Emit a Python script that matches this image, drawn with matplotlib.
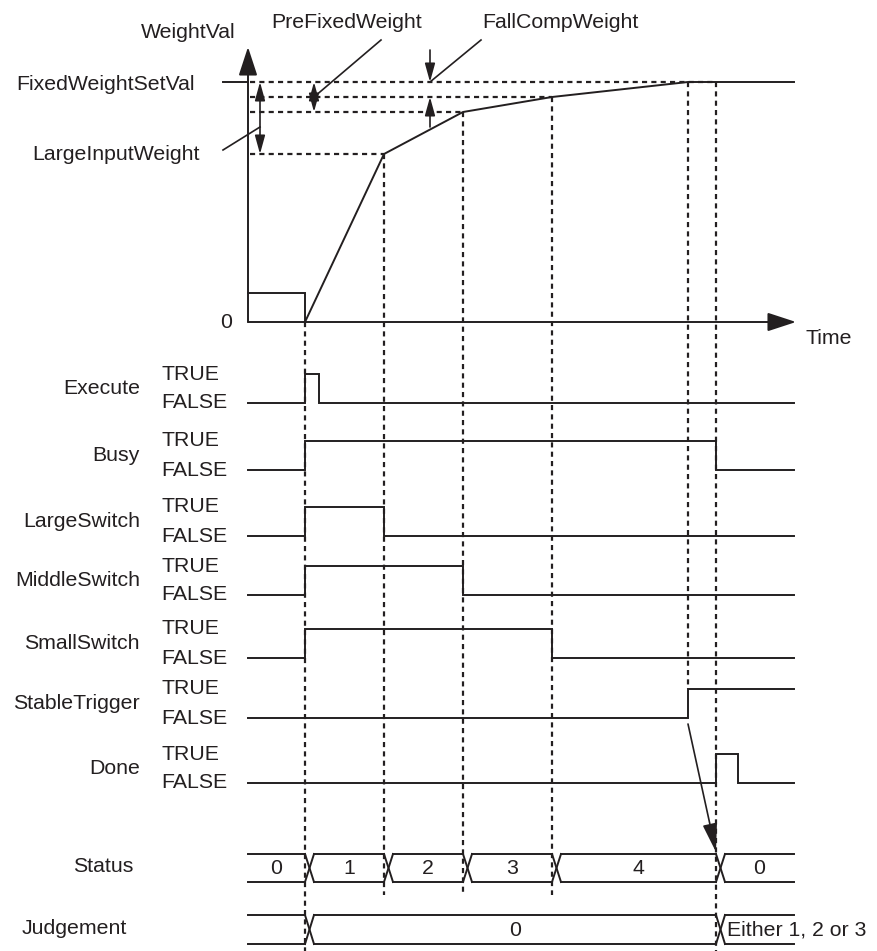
import matplotlib.pyplot as plt

plt.rcParams['font.family'] = ['Liberation Sans', 'DejaVu Sans']

# event times (horizontal position on the time axis)
t_start = 248
t_exec = 305
t_exec_off = 319
t_large = 384
t_middle = 463
t_small = 552
t_stable = 688
t_done = 716
t_done_off = 738
t_end = 794

# weight values (height above the time axis)
w_initial = 29
w_large = 168
w_middle = 210
w_small = 225
w_fixed = 240

# weight curve
curve_t = [t_start, t_exec, t_exec, t_large, t_middle, t_small, t_stable, t_end]
curve_w = [w_initial, w_initial, 0, w_large, w_middle, w_small, w_fixed, w_fixed]

# digital signals: (name, start level, switch times)
signal_names = ['Execute', 'Busy', 'LargeSwitch', 'MiddleSwitch', 'SmallSwitch', 'StableTrigger', 'Done']
signal_start = [0, 0, 0, 0, 0, 0, 0]
signal_edges = [[t_exec, t_exec_off],
                [t_exec, t_done],
                [t_exec, t_large],
                [t_exec, t_middle],
                [t_exec, t_small],
                [t_stable],
                [t_done, t_done_off]]

# buses
status_edges = [t_exec, t_large, t_middle, t_small, t_done]
status_values = ['0', '1', '2', '3', '4', '0']
judge_edges = [t_exec, t_done]
judge_values = ['', '0', 'Either 1, 2 or 3']

# layout
y_zero = 322
row_low = [403, 470, 536, 595, 658, 718, 783]
row_h = 29
status_top, status_bot = 854, 882
judge_top, judge_bot = 915, 944
fs = 15.3
lw = 1.4
ink = '#231f20'
dash_kw = dict(color=ink, lw=1.6, dashes=(2.3, 1.9))

fig = plt.figure(figsize=(8.77, 9.51), dpi=100)
ax = fig.add_axes([0, 0, 1, 1])
ax.set_xlim(0, 877)
ax.set_ylim(951, 0)
ax.axis('off')


def wy(w):
    return y_zero - w


# axes of the weight graph
big_head = dict(arrowstyle='-|>,head_length=1.1,head_width=0.36', mutation_scale=16,
                lw=lw, color=ink, shrinkA=0, shrinkB=0)
ax.annotate('', xy=(t_start, 47), xytext=(t_start, y_zero), arrowprops=big_head)
ax.annotate('', xy=(796, y_zero), xytext=(t_start, y_zero), arrowprops=big_head)
ax.text(226, y_zero, '0', fontsize=fs, ha='center', va='center', color=ink)
ax.text(829, 339, 'Time', fontsize=fs, ha='center', va='center', color=ink)
ax.text(188, 33, 'WeightVal', fontsize=fs, ha='center', va='center', color=ink)

ax.plot(curve_t, [wy(w) for w in curve_w], color=ink, lw=lw, solid_joinstyle='miter')

# horizontal dashed levels
for w, t in [(w_large, t_large), (w_middle, t_middle), (w_small, t_small), (w_fixed, t_done)]:
    ax.plot([t_start + 2, t], [wy(w), wy(w)], **dash_kw)

# vertical dashed guides
ax.plot([t_exec, t_exec], [y_zero, 951], **dash_kw)
ax.plot([t_large, t_large], [wy(w_large), 895], **dash_kw)
ax.plot([t_middle, t_middle], [wy(w_middle), 895], **dash_kw)
ax.plot([t_small, t_small], [wy(w_small), 895], **dash_kw)
ax.plot([t_stable, t_stable], [wy(w_fixed), row_low[5] - row_h], **dash_kw)
ax.plot([t_done, t_done], [wy(w_fixed), 951], **dash_kw)

# dimension annotations
small_arrow = dict(arrowstyle='<|-|>,head_length=0.8,head_width=0.22', mutation_scale=14,
                   lw=1.2, color=ink, shrinkA=0, shrinkB=0)
one_arrow = dict(arrowstyle='-|>,head_length=0.8,head_width=0.22', mutation_scale=14,
                 lw=1.2, color=ink, shrinkA=0, shrinkB=0)
ax.plot([223, t_start], [wy(w_fixed), wy(w_fixed)], color=ink, lw=lw)
ax.text(195, 85, 'FixedWeightSetVal', fontsize=fs, ha='right', va='center', color=ink)

ax.annotate('', xy=(260, wy(w_fixed)), xytext=(260, wy(w_large)), arrowprops=small_arrow)
ax.plot([223, 260], [150, 127], color=ink, lw=1.2)
ax.text(200, 155, 'LargeInputWeight', fontsize=fs, ha='right', va='center', color=ink)

ax.annotate('', xy=(314, wy(w_fixed)), xytext=(314, wy(w_middle)), arrowprops=small_arrow)
ax.plot([314, 381], [wy(w_small), 40], color=ink, lw=1.2)
ax.text(347, 22, 'PreFixedWeight', fontsize=fs, ha='center', va='center', color=ink)

ax.annotate('', xy=(430, wy(w_fixed)), xytext=(430, 50), arrowprops=one_arrow)
ax.annotate('', xy=(430, wy(w_small)), xytext=(430, 127), arrowprops=one_arrow)
ax.plot([430, 481], [wy(w_fixed), 40], color=ink, lw=1.2)
ax.text(560, 22, 'FallCompWeight', fontsize=fs, ha='center', va='center', color=ink)

# digital signals
for name, s0, edges, low in zip(signal_names, signal_start, signal_edges, row_low):
    xs = [t_start]
    ys = [low - row_h * s0]
    level = s0
    for e in edges:
        xs += [e, e]
        ys += [low - row_h * level]
        level = 1 - level
        ys += [low - row_h * level]
    xs.append(t_end)
    ys.append(low - row_h * level)
    ax.plot(xs, ys, color=ink, lw=lw, solid_joinstyle='miter')
    ax.text(140, low - row_h / 2, name, fontsize=fs, ha='right', va='center', color=ink)
    ax.text(161, low - row_h, 'TRUE', fontsize=fs, ha='left', va='center', color=ink)
    ax.text(161, low, 'FALSE', fontsize=fs, ha='left', va='center', color=ink)


def draw_bus(edges, values, top, bot, label, label_x, last_left=False):
    xw = 9
    bounds = [t_start] + edges + [t_end]
    for i in range(len(bounds) - 1):
        a = bounds[i] + (xw if i > 0 else 0)
        b = bounds[i + 1]
        ax.plot([a, b], [top, top], color=ink, lw=lw)
        ax.plot([a, b], [bot, bot], color=ink, lw=lw)
    for e in edges:
        ax.plot([e, e + xw], [top, bot], color=ink, lw=lw)
        ax.plot([e, e + xw], [bot, top], color=ink, lw=lw)
    mid = (top + bot) / 2
    for i, v in enumerate(values):
        a = bounds[i] + (xw if i > 0 else 0)
        b = bounds[i + 1]
        if last_left and i == len(values) - 1:
            ax.text(a + 2, mid + 1, v, fontsize=fs, ha='left', va='center', color=ink)
        else:
            ax.text((a + b) / 2, mid + 1, v, fontsize=fs, ha='center', va='center', color=ink)
    ax.text(label_x, mid - 1, label, fontsize=fs, ha='right', va='center', color=ink)


draw_bus(status_edges, status_values, status_top, status_bot, 'Status', 133)
draw_bus(judge_edges, judge_values, judge_top, judge_bot, 'Judgement', 127, last_left=True)

# StableTrigger -> Status change arrow
ax.annotate('', xy=(t_done, status_top - 2), xytext=(t_stable, row_low[5] + 6),
            arrowprops=dict(arrowstyle='-|>,head_length=1.1,head_width=0.28', mutation_scale=16,
                            lw=1.2, color=ink, shrinkA=0, shrinkB=0))

plt.savefig('out.png', dpi=100)
